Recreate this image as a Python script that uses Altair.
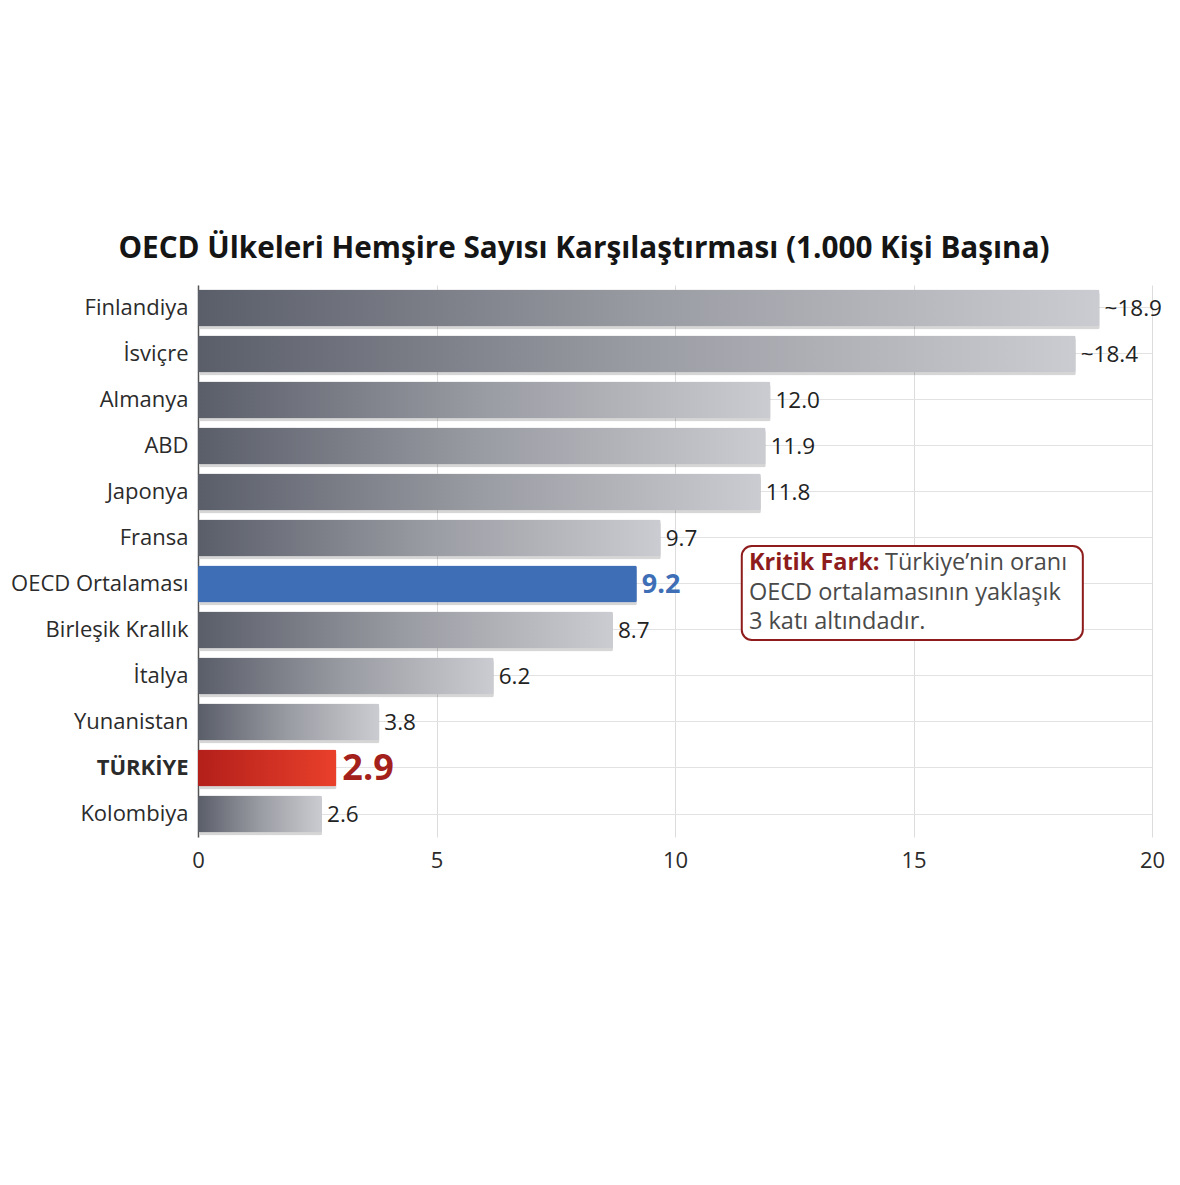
import altair as alt
import pandas as pd

countries = ["Finlandiya", "İsviçre", "Almanya", "ABD", "Japonya", "Fransa",
             "OECD Ortalaması", "Birleşik Krallık", "İtalya", "Yunanistan",
             "TÜRKİYE", "Kolombiya"]
values = [18.9, 18.4, 12.0, 11.9, 11.8, 9.7, 9.2, 8.7, 6.2, 3.8, 2.9, 2.6]
labels = ["~18.9", "~18.4", "12.0", "11.9", "11.8", "9.7", "9.2", "8.7",
          "6.2", "3.8", "2.9", "2.6"]
kinds = ["gray", "gray", "gray", "gray", "gray", "gray", "blue", "gray",
         "gray", "gray", "red", "gray"]

title_text = "OECD Ülkeleri Hemşire Sayısı Karşılaştırması (1.000 Kişi Başına)"
note_bold = "Kritik Fark:"
note_lines = ["Türkiye’nin oranı", "OECD ortalamasının yaklaşık", "3 katı altındadır."]
note_x = [11.4, 18.55]
x_ticks = [0, 5, 10, 15, 20]

FONT = "Open Sans"

df = pd.DataFrame({"country": countries, "value": values, "label": labels, "kind": kinds})

y_enc = alt.Y("country:N", sort=countries, title=None,
              scale=alt.Scale(domain=countries, paddingInner=0.2, paddingOuter=0.1),
              axis=alt.Axis(labelFont=FONT, labelFontSize=22, labelColor="#2b2b2b",
                            labelPadding=10, labelLimit=300, ticks=False, domain=True,
                            domainColor="#555555", domainWidth=1.5,
                            grid=True, gridColor="#e2e2e2", gridWidth=1,
                            labelFontWeight=alt.expr("datum.value == 'TÜRKİYE' ? 'bold' : 'normal'")))
xscale = alt.Scale(domain=[0, 20], nice=False)
x_enc = alt.X("value:Q", title=None, scale=xscale,
              axis=alt.Axis(values=x_ticks, labelFont=FONT, labelFontSize=22,
                            labelColor="#2b2b2b", labelPadding=13, ticks=False,
                            labelFlush=False,
                            domain=False, grid=True, gridColor="#dcdcdc", gridWidth=1))

base = alt.Chart(df)

shadow = base.mark_bar(color="#000000", opacity=0.16, yOffset=3, xOffset=2,
                       cornerRadius=2).encode(x=x_enc, y=y_enc)

gray_grad = alt.Gradient(gradient="linear", x1=0, x2=1, y1=0, y2=0,
                         stops=[alt.GradientStop(color="#5a5e69", offset=0),
                                alt.GradientStop(color="#9a9ca3", offset=0.5),
                                alt.GradientStop(color="#cbccd1", offset=1)])
red_grad = alt.Gradient(gradient="linear", x1=0, x2=1, y1=0, y2=0,
                        stops=[alt.GradientStop(color="#b31f1a", offset=0),
                               alt.GradientStop(color="#e9402b", offset=1)])

bars_gray = base.transform_filter(alt.datum.kind == "gray").mark_bar(
    color=gray_grad, cornerRadius=2).encode(x=x_enc, y=y_enc)
bars_blue = base.transform_filter(alt.datum.kind == "blue").mark_bar(
    color="#3e6fb6", cornerRadius=2).encode(x=x_enc, y=y_enc)
bars_red = base.transform_filter(alt.datum.kind == "red").mark_bar(
    color=red_grad, cornerRadius=2).encode(x=x_enc, y=y_enc)

lab_gray = base.transform_filter(alt.datum.kind == "gray").mark_text(
    align="left", baseline="middle", dx=5, dy=1, font=FONT, fontSize=22.5,
    color="#222222").encode(x=x_enc, y=y_enc, text="label:N")
lab_blue = base.transform_filter(alt.datum.kind == "blue").mark_text(
    align="left", baseline="middle", dx=5, dy=1, font=FONT, fontSize=27,
    fontWeight="bold", color="#3e6fb6").encode(x=x_enc, y=y_enc, text="label:N")
lab_red = base.transform_filter(alt.datum.kind == "red").mark_text(
    align="left", baseline="middle", dx=6, dy=1, font=FONT, fontSize=36,
    fontWeight="bold", color="#a3201b").encode(x=x_enc, y=y_enc, text="label:N")

note_df = pd.DataFrame({"x": [note_x[0]], "x2": [note_x[1]]})
note_box = alt.Chart(note_df).mark_rect(
    fill="white", stroke="#8e1c1c", strokeWidth=2, cornerRadius=10).encode(
    x=alt.X("x:Q", scale=xscale), x2="x2:Q",
    y=alt.value(261), y2=alt.value(355))

text_x = note_x[0] + 0.15
FS_NOTE = 23.5
note_bold_t = alt.Chart(pd.DataFrame({"x": [text_x], "t": [note_bold]})).mark_text(
    align="left", baseline="middle", font=FONT, fontSize=FS_NOTE, fontWeight="bold",
    color="#8e1c1c").encode(x=alt.X("x:Q", scale=xscale), y=alt.value(278), text="t:N")

note_layers = []
line_y = [278, 308, 337]
line_dx = [136, 0, 0]
for i, t in enumerate(note_lines):
    note_layers.append(
        alt.Chart(pd.DataFrame({"x": [text_x], "t": [t]})).mark_text(
            align="left", baseline="middle", font=FONT, fontSize=FS_NOTE,
            color="#4a4a4a", dx=line_dx[i]).encode(
            x=alt.X("x:Q", scale=xscale), y=alt.value(line_y[i]), text="t:N"))

chart = alt.layer(
    shadow, bars_gray, bars_blue, bars_red, lab_gray, lab_blue, lab_red,
    note_box, note_bold_t, *note_layers
).properties(
    width=954, height=552,
    autosize=alt.AutoSizeParams(type="none"),
    padding={"left": 190, "top": 277, "right": 20, "bottom": 60},
    title=alt.TitleParams(title_text, font=FONT, fontSize=29.7, fontWeight="bold",
                          color="#151515", anchor="middle", dx=-91, offset=20),
    background="white"
).configure_view(stroke=None)

chart.save("out.html", embed_options={"renderer": "svg", "actions": False})
